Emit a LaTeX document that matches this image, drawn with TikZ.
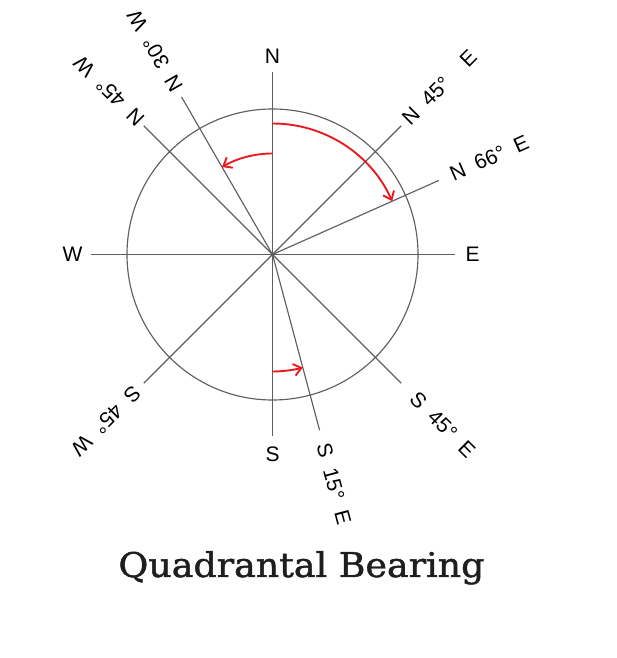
\documentclass[tikz,border=0pt]{standalone}
\usepackage{fontspec}
\setmainfont{Liberation Sans}
\newfontfamily\titlefont[FakeBold=1.3]{DejaVu Serif}
\usetikzlibrary{arrows.meta}
\definecolor{linegray}{RGB}{95,95,95}
\definecolor{bred}{RGB}{232,28,32}
\definecolor{titlegray}{RGB}{30,30,30}
\newcommand{\gsp}{\hspace{0.55em}}
\begin{document}
\begin{tikzpicture}[x=1pt,y=1pt,
  ray/.style={draw=linegray, line width=1.15pt},
  lbl/.style={font=\fontsize{21}{21}\selectfont, inner sep=0pt, text=black},
  dlbl/.style={lbl, anchor=west},
  bear/.style={draw=bred, line width=1.9pt, -{Straight Barb[length=7.5pt,width=12pt]}}]
\useasboundingbox (0,0) rectangle (616,658);
\coordinate (O) at (272.5,403.5);
% circle
\draw[ray] (O) circle[radius=145.5];
% ray end points
\foreach \nm/\ang in {eN/90,eE/0,eS/270,eW/180,eNE/45,eNEb/24,eNW/135,eNWb/120,eSW/225,eSE/315,eSEb/285}
  \coordinate (\nm) at ([shift={(\ang:182)}]O);
\foreach \nm in {eN,eE,eS,eW,eNE,eNEb,eNW,eNWb,eSW,eSE,eSEb}
  \draw[ray] (O) -- (\nm);
% cardinal labels
\node[lbl] (nN) at ([shift={(90:198)}]O) {N};
\node[lbl] (nE) at ([shift={(0:200)}]O) {E};
\node[lbl] (nS) at ([shift={(270:200)}]O) {S};
\node[lbl] (nW) at ([shift={(180:200)}]O) {W};
% bearing labels
\node[dlbl, rotate=45]  (lNE)  at ([shift={(45:188)}]O)  {N\gsp 45°\gsp\gsp E};
\node[dlbl, rotate=24]  (lNEb) at ([shift={(24:195)}]O)  {N\gsp 66°\gsp E};
\node[dlbl, rotate=120] (lNWb) at ([shift={(120:190)}]O) {N\gsp 30°\gsp W};
\node[dlbl, rotate=135] (lNW)  at ([shift={(135:186)}]O) {N\gsp 45°\gsp W};
\node[dlbl, rotate=225] (lSW)  at ([shift={(225:191)}]O) {S\gsp 45°\gsp W};
\node[dlbl, rotate=315] (lSE)  at ([shift={(315:199)}]O) {S\gsp 45°\gsp E};
\node[dlbl, rotate=285] (lSEb) at ([shift={(285:196)}]O) {S\gsp 15°\gsp E};
% red bearing arcs
\draw[bear] ([shift={(90:131)}]O) arc[start angle=90, end angle=24, radius=131];
\draw[bear] ([shift={(90:101)}]O) arc[start angle=90, end angle=120, radius=101];
\draw[bear] ([shift={(270:117)}]O) arc[start angle=270, end angle=285, radius=117];
% title
\node[font=\titlefont\fontsize{34}{34}\selectfont, text=titlegray, xscale=1.07, anchor=base, inner sep=0pt] (title) at (301.5,81) {Quadrantal Bearing};
\end{tikzpicture}
\end{document}
